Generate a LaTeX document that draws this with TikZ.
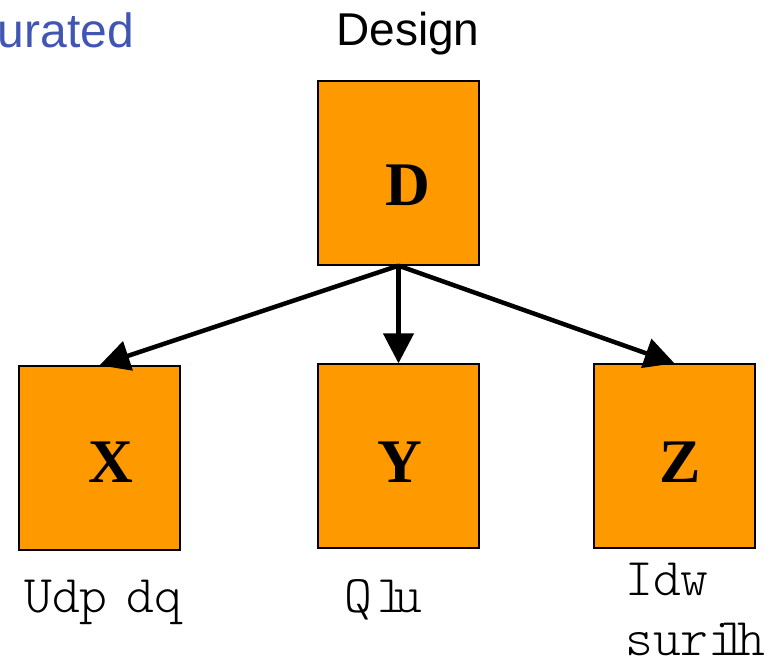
\documentclass[tikz,border=0pt]{standalone}
\usepackage{fontspec}
\setmainfont{Liberation Serif}
\setsansfont{Liberation Sans}
\newfontfamily\thinmono{Latin Modern Mono Light}
\usetikzlibrary{arrows.meta}

\definecolor{boxorange}{RGB}{255,153,0}
\definecolor{headblue}{RGB}{64,86,178}

\begin{document}
\begin{tikzpicture}[
                x=1pt, y=-1pt,
                every node/.style={inner sep=0pt},
                box/.style={draw, line width=1.3pt, fill=boxorange, minimum width=161pt, minimum height=184pt},
                letter/.style={font=\fontsize{62}{62}\selectfont\bfseries},
                link/.style={line width=4.5pt, -{Triangle[length=30pt, width=30pt]}},
                tag/.style={anchor=base west, font=\fontsize{53}{53}\selectfont\thinmono}
            ]
            \useasboundingbox (0, 0) rectangle (774, 661);

            \node[anchor=base east, text=headblue, font=\fontsize{48}{48}\selectfont\sffamily] (head) at (134, 48) {urated};
            \node[anchor=base, font=\fontsize{46}{46}\selectfont\sffamily] (title) at (408, 46) {Design};

            % boxes
            \node[box] (d) at (398.5, 173) {};
            \node[box] (x) at (99.5, 458) {};
            \node[box] (y) at (398.5, 456) {};
            \node[box] (z) at (674.5, 456) {};

            \node[letter] (dl) at (408, 185) {D};
            \node[letter] (xl) at (111, 462) {X};
            \node[letter] (yl) at (400, 462) {Y};
            \node[letter] (zl) at (680, 462) {Z};

            \foreach \t in {x, y, z} {
                \draw[link] (d.south) -- (\t.north);
            }

            % labels under the boxes
            \node[tag] (xt) at (24, 612) {Udp\kern0.35em dq};
            \node[tag] (yt) at (344, 612) {Q\kern0.1em l\kern-0.2em u};
            \node[tag] (zt) at (625, 595) {Idw};
            \node[tag] (zs) at (625, 655) {suri\kern-0.3em l\kern-0.2em h};
        \end{tikzpicture}
\end{document}
